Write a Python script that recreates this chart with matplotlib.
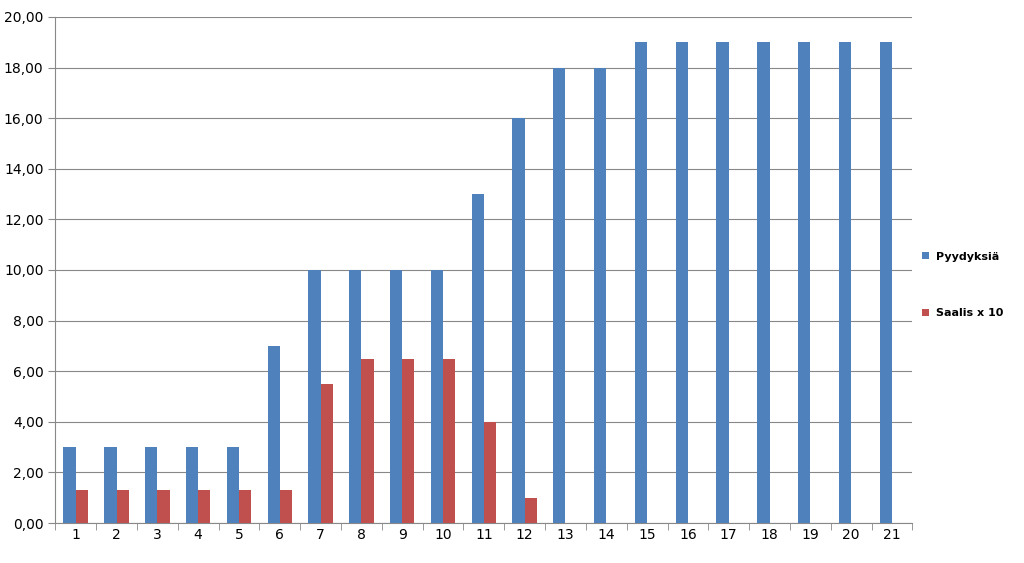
import numpy as np
import matplotlib.pyplot as plt

days = list(range(1, 22))
pyydyksia = [3, 3, 3, 3, 3, 7, 10, 10, 10, 10, 13, 16, 18, 18, 19, 19, 19, 19, 19, 19, 19]
saalis = [1.3, 1.3, 1.3, 1.3, 1.3, 1.3, 5.5, 6.5, 6.5, 6.5, 4.0, 1.0, 0, 0, 0, 0, 0, 0, 0, 0, 0]

fig = plt.figure(figsize=(10.24, 5.63), dpi=100)
ax = fig.add_axes([0.054, 0.071, 0.837, 0.899])

x = np.arange(len(days))
w = 0.3
ax.bar(x - w / 2, pyydyksia, w, color='#4f81bd', label='Pyydyksiä', zorder=3)
ax.bar(x + w / 2, saalis, w, color='#c0504d', label='Saalis x 10', zorder=3)

ax.set_xlim(-0.5, len(days) - 0.5)
ax.set_ylim(0, 20)
ax.set_yticks(np.arange(0, 21, 2))
ax.set_yticklabels([f'{v:.2f}'.replace('.', ',') for v in np.arange(0, 21, 2)], fontsize=10)
ax.set_xticks(x)
ax.set_xticklabels(days, fontsize=10)
ax.set_xticks(np.arange(-0.5, len(days)), minor=True)
ax.tick_params(axis='x', which='major', length=0)
ax.tick_params(axis='x', which='minor', length=5, color='#888888')
ax.tick_params(axis='y', length=5, color='#888888')
ax.grid(axis='y', color='#888888', linewidth=0.8, zorder=0)
for s in ['top', 'right']:
    ax.spines[s].set_visible(False)
for s in ['left', 'bottom']:
    ax.spines[s].set_color('#888888')

ax.legend(loc='center left', bbox_to_anchor=(1.0, 0.47), frameon=False,
          handlelength=0.6, handleheight=0.6, handletextpad=0.6, labelspacing=4.2,
          prop={'weight': 'bold', 'size': 8})

plt.savefig('out.png')
